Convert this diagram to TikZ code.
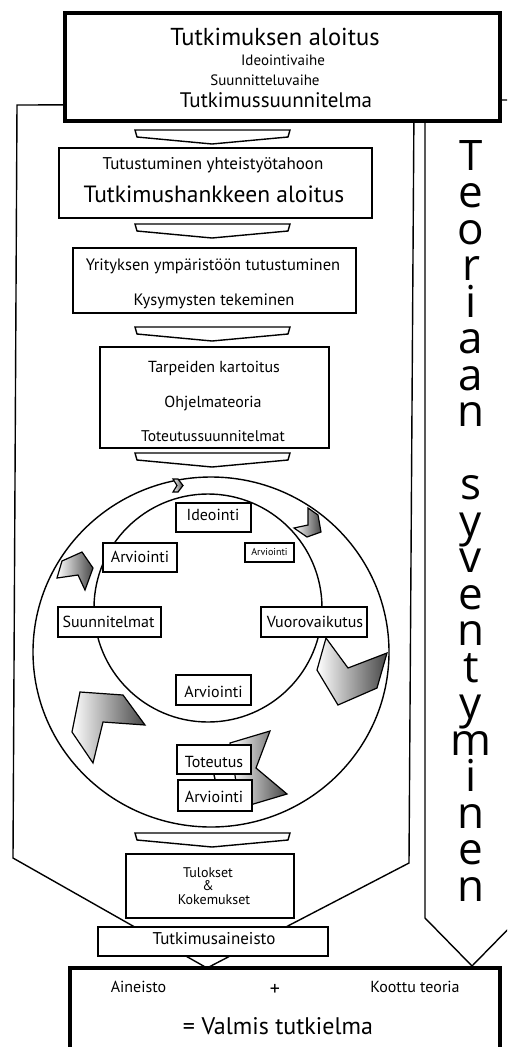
\documentclass[tikz,border=0pt]{standalone}
\usepackage{fontspec}
\setmainfont{PT Sans}
\newfontfamily\vfont{Open Sans}
\newcommand\fs[1]{\fontsize{#1}{#1}\selectfont}
\begin{document}
\begin{tikzpicture}[x=1pt,y=-1pt,line join=miter,
  thin/.style={draw,line width=1.4pt},
  box/.style={draw,line width=1.4pt,fill=white,inner sep=0pt},
  thickbox/.style={draw,line width=4pt,fill=white,inner sep=0pt},
  lbl/.style={anchor=base,inner sep=0pt},
  flat/.style={draw,line width=1.4pt,fill=white},
  grad/.style={draw,line width=1.2pt,left color=white,right color=black!72},
  ring/.style={draw,line width=1.4pt}]
\useasboundingbox (0,0) rectangle (507,1047);
\clip (0,0) rectangle (507,1047);
% big pentagons
\draw[thin] (17,105) -- (414,104) -- (409,863) -- (207,968) -- (13,858) -- cycle;
\draw[thin] (425,100) -- (519,100) -- (519,918) -- (472,966) -- (425,918) -- cycle;
% top box
\node[thickbox,minimum width=435pt,minimum height=108pt] (top) at (282.5,67) {};
\node[lbl] (t1) at (275,45) {\fs{24.5}Tutkimuksen aloitus};
\node[lbl] (t2) at (283,65) {\fs{15}Ideointivaihe};
\node[lbl] (t3) at (265,85) {\fs{15}Suunnitteluvaihe};
\node[lbl] (t4) at (276,107) {\fs{21}Tutkimussuunnitelma};
% flat arrows
\foreach \yy/\nm in {130/fa1,224/fa2,327/fa3,453/fa4,833/fa5}{
  \draw[flat] (135,\yy) -- (290,\yy) -- (288,{\yy+7}) -- (212,{\yy+14}) -- (137,{\yy+7}) -- cycle;
}
% box 2
\node[box,minimum width=313pt,minimum height=70pt] (b2) at (215.5,183) {};
\node[lbl] (b2a) at (213,169) {\fs{17}Tutustuminen yhteistyötahoon};
\node[lbl] (b2b) at (214,202) {\fs{23.5}Tutkimushankkeen aloitus};
% box 3
\node[box,minimum width=283pt,minimum height=65pt] (b3) at (214.5,280.5) {};
\node[lbl] (b3a) at (213,270) {\fs{16.5}Yrityksen ympäristöön tutustuminen};
\node[lbl] (b3b) at (214,305) {\fs{16.5}Kysymysten tekeminen};
% box 4
\node[box,minimum width=229pt,minimum height=101pt] (b4) at (214.5,397.5) {};
\node[lbl] (b4a) at (214,372) {\fs{16}Tarpeiden kartoitus};
\node[lbl] (b4b) at (213,407) {\fs{16}Ohjelmateoria};
\node[lbl] (b4c) at (213,441) {\fs{15.5}Toteutussuunnitelmat};
% circles
\draw[ring] (211,652) ellipse [x radius=178pt, y radius=175pt];
\draw[ring] (208,608) circle [radius=114pt];
% gradient chevrons
\draw[grad] (173,479) -- (178,479) -- (183,485.5) -- (178,492) -- (173,492) -- (177,485.5) -- cycle;
\draw[grad] (308,508) -- (318,515) -- (321,532) -- (307,537) -- (294,528) -- (308,525) -- cycle;
\draw[grad] (62,561) -- (82,552) -- (93,568) -- (85,590) -- (78,575) -- (57,578) -- cycle;
\draw[grad] (326,638) -- (348,668) -- (387,653) -- (377,688) -- (338,705) -- (317,670) -- cycle;
\draw[grad] (80,692) -- (123,695) -- (145,725) -- (103,722) -- (93,763) -- (72,732) -- cycle;
\draw[grad] (230,743) -- (270,731) -- (256,768) -- (287,794) -- (240,808) -- cycle;
% circle boxes
\node[box,minimum width=75pt,minimum height=29pt] (ide) at (213.5,517.5) {};
\node[lbl] (idet) at (213,520) {\fs{16}Ideointi};
\node[box,minimum width=74pt,minimum height=29pt] (arvL) at (140,557.5) {};
\node[lbl] (arvLt) at (140,562) {\fs{16}Arviointi};
\node[box,minimum width=49pt,minimum height=19pt] (arvS) at (269.5,552.5) {};
\node[lbl] (arvSt) at (269.5,555) {\fs{10}Arviointi};
\node[box,minimum width=103pt,minimum height=30pt] (suun) at (109.5,622) {};
\node[lbl] (suunt) at (108.5,627) {\fs{16}Suunnitelmat};
\node[box,minimum width=106pt,minimum height=30pt] (vuor) at (314,622) {};
\node[lbl] (vuort) at (315,627) {\fs{16}Vuorovaikutus};
\node[box,minimum width=75pt,minimum height=30pt] (arvC) at (213.5,690) {};
\node[lbl] (arvCt) at (213.5,697) {\fs{16}Arviointi};
\node[box,minimum width=74pt,minimum height=29pt] (tot) at (214,759.5) {};
\node[lbl] (tott) at (214,767) {\fs{16}Toteutus};
\node[box,minimum width=74pt,minimum height=31pt] (arvB) at (215,795.5) {};
\node[lbl] (arvBt) at (214,802) {\fs{16}Arviointi};
\draw[line width=1.4pt] (tot.south) -- (arvB.north);
% results
\node[box,minimum width=168pt,minimum height=64pt] (tul) at (210,886) {};
\node[lbl] (tula) at (208,877) {\fs{14}Tulokset};
\node[lbl] (tulb) at (208,890) {\fs{14}\&};
\node[lbl] (tulc) at (214,904) {\fs{14}Kokemukset};
\node[box,minimum width=230pt,minimum height=29pt] (aine) at (213,941.5) {};
\node[lbl] (ainet) at (214,944) {\fs{17}Tutkimusaineisto};
% bottom box
\node[thickbox,minimum width=430pt,minimum height=110pt] (bot) at (285,1023) {};
\node[lbl] (bota) at (138.5,992) {\fs{16}Aineisto};
\node[lbl] (botp) at (275,995) {\fs{20}+};
\node[lbl] (botc) at (415,992) {\fs{16}Koottu teoria};
\node[lbl] (botv) at (278,1034) {\fs{24}= Valmis tutkielma};
% vertical text
\node[lbl] (v1) at (471,170) {\vfont\fs{42}T};
\foreach \l [count=\i from 2] in {e,o,r,i,a,a,n,{},s,y,v,e,n,t,y,m,i,n,e,n}{
  \node[lbl] (v\i) at (471,{171+(\i-1)*36.5}) {\vfont\fs{44}\l};
}
\end{tikzpicture}
\end{document}
